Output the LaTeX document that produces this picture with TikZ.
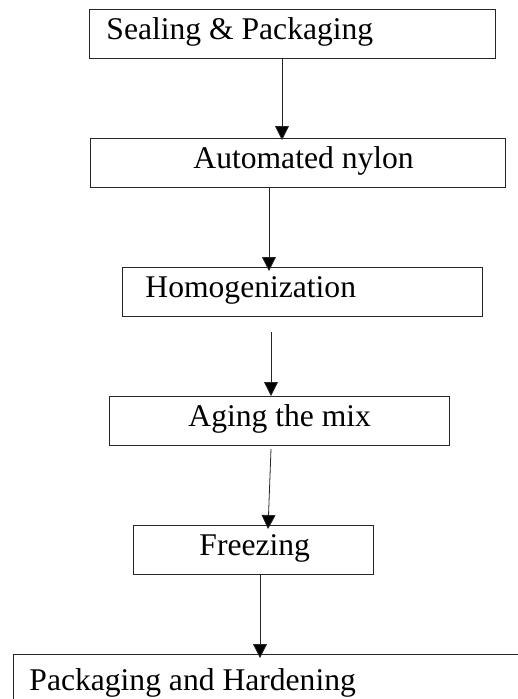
\documentclass[tikz,border=0pt]{standalone}
\usepackage{fontspec}
\setmainfont{Liberation Serif}
\usetikzlibrary{arrows.meta}
\begin{document}
\begin{tikzpicture}[x=1pt,y=-1pt,
  box/.style={draw=black!85, line width=0.9pt, rectangle, anchor=north west,
    inner xsep=0pt, inner ysep=0pt, minimum height=49pt,
    text height=20pt, text depth=8pt, font=\fontsize{31.6}{36}\selectfont},
  arr/.style={draw=black!85, line width=0.8pt, -{Triangle[width=14pt,length=14pt,fill=black]}}]
\path[use as bounding box] (0,0) rectangle (518,699);
\clip (0,0) rectangle (518,699);
\node[box] (b1) at (89,9) {\makebox[406pt][l]{\hspace*{17pt}Sealing \& Packaging}};
\node[box] (b2) at (90,138) {\makebox[415pt][l]{\hspace*{103pt}Automated nylon}};
\node[box] (b3) at (122,267) {\makebox[360pt][l]{\hspace*{23pt}Homogenization}};
\node[box] (b4) at (109,396) {\makebox[340pt][l]{\hspace*{79pt}Aging the mix}};
\node[box] (b5) at (133,525) {\makebox[240pt][l]{\hspace*{66pt}Freezing}};
\node[box, minimum height=60pt] (b6) at (13,654) {\makebox[530pt][l]{\hspace*{16pt}Packaging and Hardening}};
\draw[arr] ([xshift=193pt]b1.south west) -- ([xshift=192pt,yshift=-2pt]b2.north west);
\draw[arr] ([xshift=179pt]b2.south west) -- ([xshift=147pt,yshift=-4pt]b3.north west);
\draw[arr] ([xshift=149pt,yshift=-15pt]b3.south west) -- ([xshift=162pt]b4.north west);
\draw[arr] ([xshift=162pt,yshift=-3pt]b4.south west) -- ([xshift=135pt,yshift=-4pt]b5.north west);
\draw[arr] ([xshift=127pt]b5.south west) -- ([xshift=247pt,yshift=-4pt]b6.north west);
\end{tikzpicture}
\end{document}
